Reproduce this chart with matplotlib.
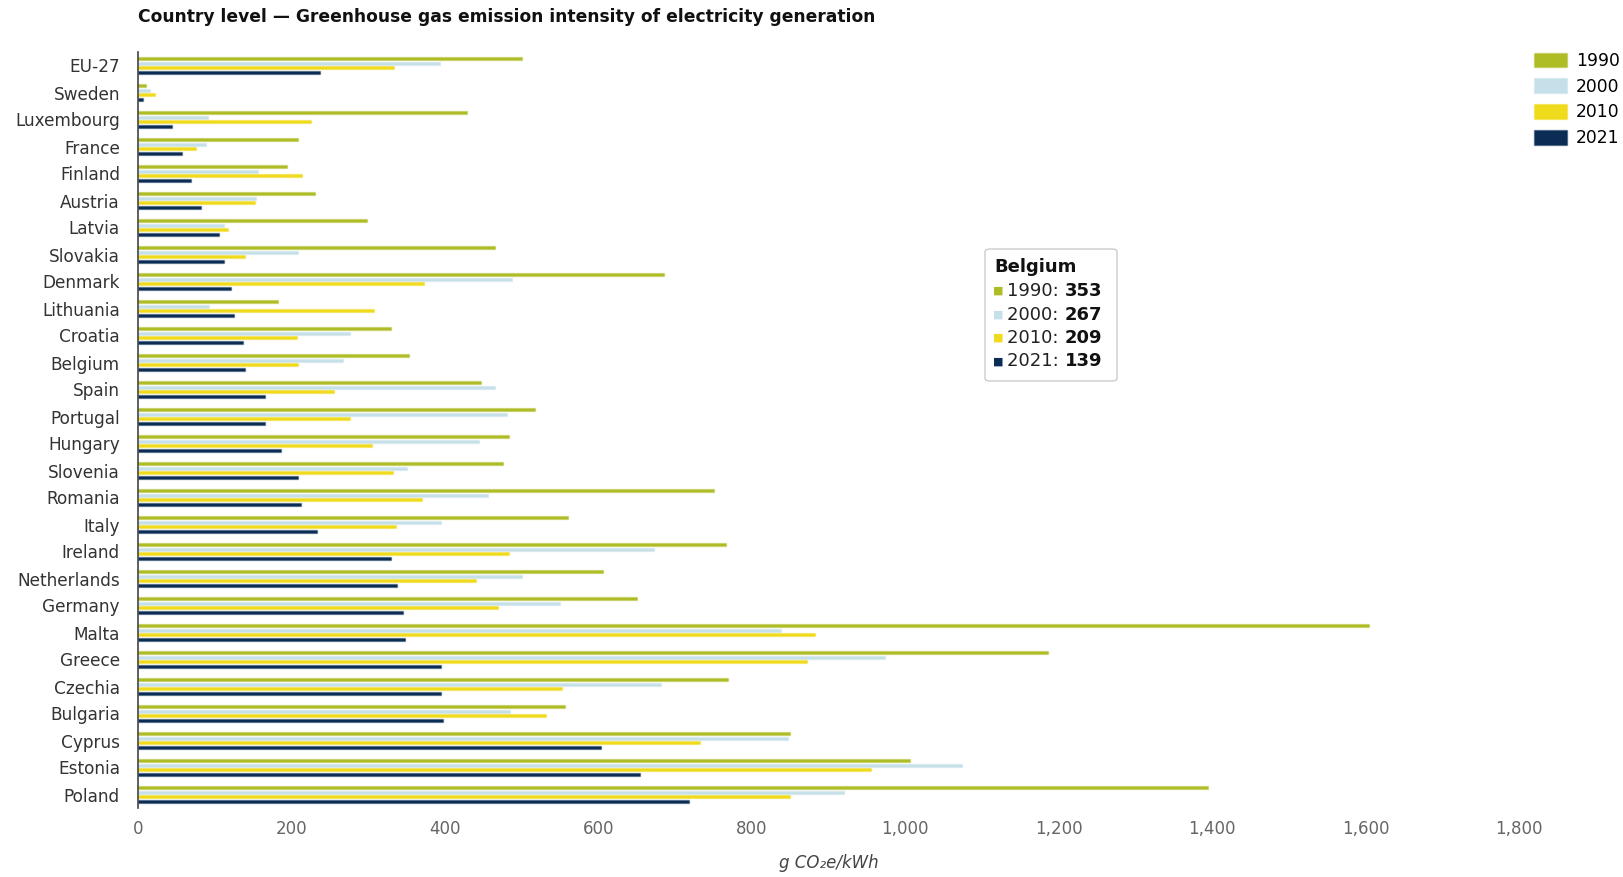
import numpy as np
import matplotlib.pyplot as plt
from matplotlib.patches import Patch, FancyBboxPatch
from matplotlib.colors import to_rgba
from matplotlib.text import Annotation

# Data (g CO2e/kWh)
countries = ["EU-27", "Sweden", "Luxembourg", "France", "Finland", "Austria", "Latvia",
             "Slovakia", "Denmark", "Lithuania", "Croatia", "Belgium", "Spain", "Portugal",
             "Hungary", "Slovenia", "Romania", "Italy", "Ireland", "Netherlands", "Germany",
             "Malta", "Greece", "Czechia", "Bulgaria", "Cyprus", "Estonia", "Poland"]
years = ["1990", "2000", "2010", "2021"]

v1990 = [500, 10, 429, 209, 194, 231, 299, 465, 685, 182, 330, 353, 447, 517,
         483, 476, 751, 560, 766, 606, 650, 1604, 1186, 769, 557, 850, 1006, 1394]
v2000 = [394, 15, 91, 89, 157, 154, 112, 209, 487, 93, 276, 267, 465, 481,
         445, 351, 456, 395, 672, 501, 550, 838, 973, 682, 485, 847, 1074, 920]
v2010 = [334, 22, 226, 76, 214, 152, 117, 139, 373, 307, 207, 209, 256, 276,
         305, 332, 370, 336, 483, 440, 469, 883, 872, 553, 532, 733, 955, 850]
v2021 = [237, 7, 44, 57, 69, 82, 105, 112, 121, 125, 137, 139, 165, 166,
         186, 209, 212, 233, 330, 337, 346, 348, 395, 395, 397, 604, 654, 718]

series = [v1990, v2000, v2010, v2021]
colors = ["#aebd25", "#c6e0ea", "#f0da1c", "#0b2d55"]

W, H = 1624, 877
fig = plt.figure(figsize=(W / 100, H / 100), dpi=100)

def fx(px):
    return px / W

def fy(py):
    return 1 - py / H

ax = fig.add_axes([fx(138), fy(808), fx(1519) - fx(138), fy(52) - fy(808)])

y = np.arange(len(countries))
step = 0.163
for i, (vals, c) in enumerate(zip(series, colors)):
    ax.barh(y + (i - 1.5) * step, vals, height=0.11, color=c,
            edgecolor=to_rgba(c, 0.35), linewidth=1.0, label=years[i])

ax.set_ylim(len(countries) - 0.5, -0.5)
ax.set_xlim(0, 1800)
ax.set_yticks(y)
ax.set_yticklabels(countries, fontsize=12.2, color="#333333")
ax.set_xticks(np.arange(0, 1801, 200))
ax.set_xticklabels([f"{v:,}" for v in range(0, 1801, 200)], fontsize=12, color="#666666")
ax.tick_params(axis="y", length=0, pad=13)
ax.tick_params(axis="x", length=0, pad=9)
for s in ["top", "right", "bottom"]:
    ax.spines[s].set_visible(False)
ax.spines["left"].set_color("#444444")
ax.spines["left"].set_linewidth(1.2)

ax.set_xlabel("g CO₂e/kWh", fontsize=12, style="italic", color="#444444", labelpad=11)

fig.text(fx(138), fy(17), "Country level — Greenhouse gas emission intensity of electricity generation",
         fontsize=12.3, fontweight="bold", color="#111111", va="center", ha="left")

# legend
handles = [Patch(facecolor=c, edgecolor=to_rgba(c, 0.4), label=yr) for c, yr in zip(colors, years)]
fig.legend(handles=handles, loc="upper right", bbox_to_anchor=(fx(1620), fy(52)),
           frameon=False, fontsize=12.3, handlelength=1.9, handleheight=0.95,
           labelspacing=0.45, handletextpad=0.55, borderaxespad=0, borderpad=0)

# tooltip for Belgium
bx0, by0, bx1, by1 = 985, 249, 1117, 381
box = FancyBboxPatch((fx(bx0), fy(by1)), fx(bx1) - fx(bx0), fy(by0) - fy(by1),
                     boxstyle="round,pad=0,rounding_size=0.003", transform=fig.transFigure,
                     facecolor="white", edgecolor="#cccccc", linewidth=1.0, zorder=5)
fig.patches.append(box)
k = countries.index("Belgium")
fig.text(fx(994), fy(267), "Belgium", fontsize=13, fontweight="bold", color="#111111",
         va="center", ha="left", zorder=6)
for i, (vals, c) in enumerate(zip(series, colors)):
    yy = fy(291 + i * 23.5)
    fig.text(fx(993), yy, "■", fontsize=8, color=c, va="center", ha="left", zorder=6)
    t = fig.text(fx(1007), yy, f"{years[i]}: ", fontsize=13, color="#222222",
                 va="center", ha="left", zorder=6)
    num = Annotation(f"{vals[k]}", xy=(1, 0.5), xycoords=t, fontsize=13, fontweight="bold",
                     color="#111111", va="center", ha="left", zorder=7)
    fig.add_artist(num)

fig.savefig("out.png", dpi=100)
